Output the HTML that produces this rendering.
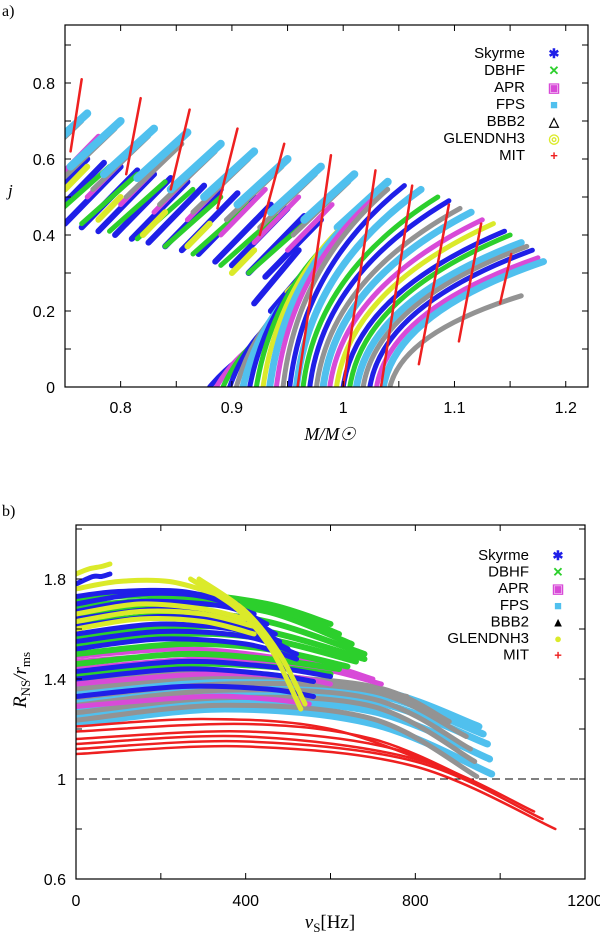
<!DOCTYPE html>
<html><head><meta charset="utf-8"><style>
body{margin:0;background:#fff;}
svg{display:block;}
text{font-family:"Liberation Sans",sans-serif;}
.ser{font-family:"Liberation Serif",serif;}
</style></head><body>
<svg id="fig" width="600" height="936" viewBox="0 0 600 936">
<text class="ser" x="2" y="16" font-size="16">a)</text>
<text class="ser" x="2" y="516" font-size="16">b)</text>
<g id="pa"></g>
<g id="pb"></g>
</svg>
<script>
// ---------- Panel a data (M/Msun, j) ----------
const aXTicks=[0.8,0.9,1,1.1,1.2];
const aXTickLabels=["0.8","0.9","1","1.1","1.2"];
const aYTicks=[0,0.2,0.4,0.6,0.8];
const aYTickLabels=["0","0.2","0.4","0.6","0.8"];
// upper band strokes: [m1,j1,m2,j2]
const aCyanStrokes=[[0.725,0.60,0.77,0.72],[0.755,0.58,0.80,0.70],[0.785,0.56,0.83,0.68],[0.815,0.55,0.86,0.67],[0.845,0.52,0.89,0.64],[0.875,0.50,0.92,0.62],[0.905,0.48,0.95,0.60],[0.935,0.46,0.98,0.58],[0.965,0.44,1.01,0.56],[0.995,0.42,1.04,0.54]];
const aGrayStrokes=[[0.715,0.56,0.765,0.70],[0.745,0.54,0.795,0.68],[0.775,0.52,0.825,0.66],[0.805,0.50,0.855,0.64],[0.835,0.48,0.885,0.62],[0.865,0.46,0.915,0.60],[0.895,0.44,0.945,0.58],[0.925,0.42,0.975,0.56],[0.955,0.40,1.005,0.54]];
const aMagentaStrokes=[[0.74,0.54,0.78,0.66],[0.77,0.50,0.81,0.62],[0.80,0.48,0.84,0.60],[0.83,0.46,0.87,0.58],[0.86,0.44,0.90,0.56],[0.89,0.40,0.93,0.52],[0.92,0.38,0.96,0.50],[0.95,0.36,0.99,0.48]];
const aGreenStrokes=[[0.74,0.45,0.79,0.58],[0.765,0.43,0.815,0.56],[0.79,0.41,0.84,0.54],[0.815,0.39,0.865,0.52],[0.84,0.37,0.89,0.50],[0.865,0.35,0.915,0.48],[0.89,0.32,0.94,0.45],[0.915,0.30,0.965,0.43]];
const aBlueStrokes=[[0.72,0.45,0.77,0.60],[0.735,0.44,0.785,0.59],[0.75,0.43,0.80,0.58],[0.765,0.42,0.815,0.57],[0.78,0.41,0.83,0.56],[0.795,0.40,0.845,0.55],[0.81,0.39,0.86,0.54],[0.825,0.38,0.875,0.53],[0.84,0.37,0.89,0.52],[0.855,0.36,0.905,0.51],[0.87,0.35,0.92,0.50],[0.885,0.33,0.935,0.48],[0.90,0.32,0.95,0.47],[0.915,0.30,0.965,0.45],[0.93,0.29,0.98,0.44],[0.92,0.22,0.96,0.36],[0.935,0.20,0.97,0.32]];
const aYellowStrokes=[[0.78,0.44,0.80,0.50],[0.82,0.40,0.84,0.46],[0.86,0.37,0.88,0.43],[0.90,0.30,0.92,0.36],[0.95,0.25,0.97,0.31],[0.75,0.52,0.77,0.58]];
// lower arcs: [M0, Mend, jend]
const aArcs=[[0.880,0.905,0.07],[0.886,0.915,0.10],[0.892,0.925,0.13],[0.898,0.935,0.17],[0.904,0.945,0.21],[0.910,0.955,0.25],[0.916,0.965,0.30],[0.922,0.980,0.36],[0.928,0.995,0.41],[0.934,1.010,0.45],[0.940,1.025,0.49],[0.946,1.040,0.52],[0.952,1.055,0.53],[0.958,1.070,0.52],[0.964,1.085,0.50],[0.970,1.095,0.49],[0.976,1.105,0.47],[0.982,1.115,0.46],[0.988,1.125,0.44],[0.994,1.135,0.43],[1.000,1.145,0.41],[1.006,1.150,0.40],[1.012,1.160,0.38],[1.018,1.165,0.37],[1.024,1.170,0.36],[1.030,1.175,0.34],[1.036,1.180,0.33],[1.042,1.160,0.24]];
const aArcColors=["blue","magenta","green","blue","gray","cyan","blue","green","yellow","cyan","magenta","gray","blue","cyan","green","blue","gray","cyan","magenta","yellow","blue","green","cyan","gray","blue","magenta","cyan","gray"];
// MIT lines: [m1,j1,m2,j2]
const aMIT=[[0.755,0.62,0.765,0.81],[0.805,0.56,0.818,0.76],[0.845,0.52,0.862,0.73],[0.887,0.47,0.905,0.68],[0.925,0.40,0.947,0.64],[0.959,0.0,0.989,0.61],[1.0,0.0,1.029,0.57],[1.034,0.0,1.062,0.53],[1.068,0.06,1.095,0.48],[1.104,0.12,1.124,0.43],[1.141,0.22,1.151,0.35]];

// ---------- Panel b data (nu_S Hz, R_NS/r_ms) : 4 anchors per track ----------
const bXTicks=[0,400,800,1200];
const bXTickLabels=["0","400","800","1200"];
const bYTicks=[0.6,1,1.4,1.8];
const bYTickLabels=["0.6","1","1.4","1.8"];
const bCyan=[[0,1.22,350,1.28,700,1.22,980,1.02],[0,1.25,350,1.31,700,1.27,975,1.08],[0,1.28,350,1.34,700,1.31,970,1.14],[0,1.31,350,1.37,700,1.34,960,1.18],[0,1.34,350,1.39,700,1.36,950,1.21],[0,1.37,300,1.40,550,1.39,800,1.30]];
const bGray=[[0,1.235,350,1.295,700,1.24,945,1.01],[0,1.265,350,1.325,700,1.29,940,1.07],[0,1.295,350,1.355,700,1.32,930,1.12],[0,1.325,350,1.38,700,1.35,920,1.17],[0,1.36,350,1.41,700,1.37,880,1.23],[0,1.39,300,1.43,550,1.40,780,1.33]];
const bMagenta=[[0,1.29,300,1.33,450,1.32,550,1.30],[0,1.38,300,1.42,500,1.41,600,1.38],[0,1.44,300,1.48,550,1.45,720,1.38],[0,1.47,300,1.50,550,1.47,700,1.40],[0,1.49,250,1.52,450,1.49,560,1.44]];
const bBlue=[[0,1.33,250,1.37,450,1.36,560,1.33],[0,1.40,250,1.44,450,1.42,560,1.39],[0,1.43,250,1.47,450,1.45,600,1.41],[0,1.52,200,1.56,400,1.54,520,1.48],[0,1.55,200,1.59,400,1.57,520,1.50],[0,1.58,200,1.62,400,1.59,500,1.52],[0,1.61,200,1.65,380,1.62,480,1.55],[0,1.64,200,1.68,380,1.65,470,1.58],[0,1.67,150,1.71,350,1.69,450,1.62],[0,1.70,150,1.74,300,1.73,420,1.66],[0,1.73,100,1.75,250,1.75,380,1.70],[0,1.78,40,1.81,60,1.81,80,1.82]];
const bGreen=[[0,1.42,250,1.46,450,1.45,600,1.42],[0,1.46,250,1.50,450,1.48,620,1.44],[0,1.50,250,1.54,450,1.52,640,1.45],[0,1.54,250,1.58,450,1.56,660,1.47],[0,1.57,250,1.61,450,1.59,680,1.48],[0,1.62,250,1.66,450,1.63,680,1.50],[0,1.66,250,1.70,450,1.67,650,1.54],[0,1.69,250,1.72,450,1.69,620,1.58],[0,1.72,250,1.74,450,1.70,600,1.62]];
const bYellow=[[0,1.60,150,1.64,300,1.63,420,1.58],[0,1.63,150,1.67,300,1.66,420,1.61],[0,1.66,150,1.70,300,1.68,400,1.64],[0,1.76,100,1.79,220,1.79,330,1.74],[0,1.82,30,1.84,60,1.85,80,1.86],[270,1.80,380,1.68,460,1.52,530,1.28],[290,1.80,400,1.67,480,1.50,540,1.30]];
const bRed=[[0,1.10,400,1.13,800,1.05,1130,0.80],[0,1.12,400,1.15,800,1.07,1100,0.84],[0,1.14,400,1.17,800,1.08,1080,0.87],[0,1.16,400,1.19,750,1.12,1000,0.93],[0,1.19,400,1.22,700,1.16,950,0.98],[0,1.21,300,1.24,600,1.20,900,1.02]];
const legendNames=["Skyrme","DBHF","APR","FPS","BBB2","GLENDNH3","MIT"];

const COL={blue:"#1f1fe8",green:"#2ccf2c",magenta:"#d84ad8",cyan:"#50c0ee",gray:"#939393",yellow:"#dbea2a",red:"#ee2020",black:"#000"};
const NS="http://www.w3.org/2000/svg";
function mk(tag,attrs,parent){const e=document.createElementNS(NS,tag);for(const k in attrs)e.setAttribute(k,attrs[k]);parent.appendChild(e);return e;}

const aX=m=>65+(m-0.75)/0.47*523;
const aY=j=>387-j/0.2*76;
const bX=v=>76+v/1200*509;
const bY=r=>879-(r-0.6)/0.1*25;

function frame(g,L,R,T,B,xt,xlab,xf,yt,ylab,yf,xminor,yminor,labY){
  const r=mk('rect',{x:L,y:T,width:R-L,height:B-T,fill:'none',stroke:'#000','stroke-width':1.2},g);
  
  
  xminor.forEach(v=>{const x=xf(v);
    const t1=mk('line',{x1:x,y1:B,x2:x,y2:B-6,stroke:'#000'},g);
    const t2=mk('line',{x1:x,y1:T,x2:x,y2:T+6,stroke:'#000'},g);});
  yminor.forEach(v=>{const y=yf(v);
    const t1=mk('line',{x1:L,y1:y,x2:L+6,y2:y,stroke:'#000'},g);
    const t2=mk('line',{x1:R,y1:y,x2:R-6,y2:y,stroke:'#000'},g);});
  xt.forEach((v,i)=>{const t=mk('text',{x:xf(v),y:labY,'font-size':16,'text-anchor':'middle'},g);t.textContent=xlab[i];
    });
  yt.forEach((v,i)=>{const t=mk('text',{x:L-10,y:yf(v)+6,'font-size':16,'text-anchor':'end'},g);t.textContent=ylab[i];
    });
}
function seg(g,arr,color,xf,yf,w,name){arr.forEach(s=>{
  const l=mk('line',{x1:xf(s[0]),y1:yf(s[1]),x2:xf(s[2]),y2:yf(s[3]),stroke:COL[color],'stroke-width':w,'stroke-linecap':'round'},g);
  
  });}
function curve(g,arr,color,w,name){arr.forEach(s=>{
  const P=[];for(let i=0;i<s.length;i+=2)P.push([bX(s[i]),bY(s[i+1])]);
  let d=`M${P[0][0]},${P[0][1]}`;
  for(let i=0;i<P.length-1;i++){
    const p0=P[Math.max(0,i-1)],p1=P[i],p2=P[i+1],p3=P[Math.min(P.length-1,i+2)];
    const c1=[p1[0]+(p2[0]-p0[0])/6,p1[1]+(p2[1]-p0[1])/6],c2=[p2[0]-(p3[0]-p1[0])/6,p2[1]-(p3[1]-p1[1])/6];
    d+=`C${c1[0]},${c1[1]} ${c2[0]},${c2[1]} ${p2[0]},${p2[1]}`;}
  const p=mk('path',{d:d,fill:'none',stroke:COL[color],'stroke-width':w,'stroke-linecap':'round'},g);
  
  });}
function legend(g,x,y0,dy,syms){legendNames.forEach((n,i)=>{const y=y0+i*dy;
  const t=mk('text',{x:x,y:y+5,'font-size':15,'text-anchor':'end'},g);t.textContent=n;
  
  const s=mk('text',{x:x+29,y:y+5,'font-size':13,'text-anchor':'middle',fill:syms[i][1],'font-weight':'bold'},g);s.textContent=syms[i][0];
  });}

// ----- panel a -----
const pa=document.getElementById('pa');
const clipA=mk('clipPath',{id:'ca'},pa);mk('rect',{x:65,y:25,width:523,height:362},clipA);
const ga=mk('g',{'clip-path':'url(#ca)'},pa);


seg(ga,aBlueStrokes,'blue',aX,aY,6,'skyrme-stroke');
seg(ga,aGreenStrokes,'green',aX,aY,5,'dbhf-stroke');
seg(ga,aYellowStrokes,'yellow',aX,aY,6,'glendnh3-stroke');
seg(ga,aMagentaStrokes,'magenta',aX,aY,5,'apr-stroke');
seg(ga,aGrayStrokes,'gray',aX,aY,5,'bbb2-stroke');
seg(ga,aCyanStrokes,'cyan',aX,aY,8,'fps-stroke');
aArcs.forEach((a,i)=>{const x0=aX(a[0]),y0=aY(0),x2=aX(a[1]),y2=aY(a[2]);
  const cx=aX(a[0]+0.012),cy=aY(a[2]*0.6);
  const p=mk('path',{d:`M${x0},${y0}Q${cx},${cy} ${x2},${y2}`,fill:'none',stroke:COL[aArcColors[i]],'stroke-width':aArcColors[i]==='cyan'?7:5,'stroke-linecap':'round'},ga);
  
  });
seg(ga,aMIT,'red',aX,aY,2.5,'mit-line');
const aXminor=[],aYminor=[];
for(let i=0;i<=9;i++)aXminor.push(0.75+i*0.05);
for(let i=0;i<=9;i++)aYminor.push(i*0.1);
frame(pa,65,588,25,387,aXTicks,aXTickLabels,aX,aYTicks,aYTickLabels,aY,aXminor,aYminor,413);
legend(pa,525,53,17,[["✱",COL.blue],["✕",COL.green],["▣",COL.magenta],["■",COL.cyan],["△","#000"],["◎",COL.yellow],["+",COL.red]]);
let t=mk('text',{class:'ser',x:8,y:196,'font-size':17,'font-style':'italic'},pa);t.textContent='j';

t=mk('text',{class:'ser',x:330,y:440,'font-size':18,'text-anchor':'middle','font-style':'italic'},pa);t.textContent='M/M☉';


// ----- panel b -----
const pb=document.getElementById('pb');
const clipB=mk('clipPath',{id:'cb'},pb);mk('rect',{x:76,y:525,width:509,height:354},clipB);
const gb=mk('g',{'clip-path':'url(#cb)'},pb);


const dl=mk('line',{x1:bX(0),y1:bY(1),x2:bX(1200),y2:bY(1),stroke:'#000','stroke-dasharray':'8 5','stroke-width':1},gb);

curve(gb,bCyan,'cyan',7,'fps-track');
curve(gb,bGray,'gray',5,'bbb2-track');
curve(gb,bMagenta,'magenta',5,'apr-track');
curve(gb,bGreen,'green',6,'dbhf-track');
curve(gb,bBlue,'blue',5,'skyrme-track');
curve(gb,bYellow,'yellow',5,'glendnh3-track');
curve(gb,bRed,'red',2.5,'mit-track');
const bXminor=[],bYminor=[];
for(let i=0;i<=6;i++)bXminor.push(i*200);
for(let i=0;i<=7;i++)bYminor.push(0.6+i*0.2);
frame(pb,76,585,525,879,bXTicks,bXTickLabels,bX,bYTicks,bYTickLabels,bY,bXminor,bYminor,906);
legend(pb,529,555,16.6,[["✱",COL.blue],["✕",COL.green],["▣",COL.magenta],["■",COL.cyan],["▲","#000"],["●",COL.yellow],["+",COL.red]]);
t=mk('text',{class:'ser',x:0,y:0,'font-size':19,'text-anchor':'middle','font-style':'italic',transform:'translate(26,680) rotate(-90)'},pb);
t.innerHTML='R<tspan font-size="13" dy="4" font-style="normal">NS</tspan><tspan dy="-4">/r</tspan><tspan font-size="13" dy="4" font-style="normal">ms</tspan>';

t=mk('text',{class:'ser',x:330,y:928,'font-size':19,'text-anchor':'middle'},pb);
t.innerHTML='<tspan font-style="italic">ν</tspan><tspan font-size="13" dy="4">S</tspan><tspan dy="-4">[Hz]</tspan>';

</script>
</body></html>
